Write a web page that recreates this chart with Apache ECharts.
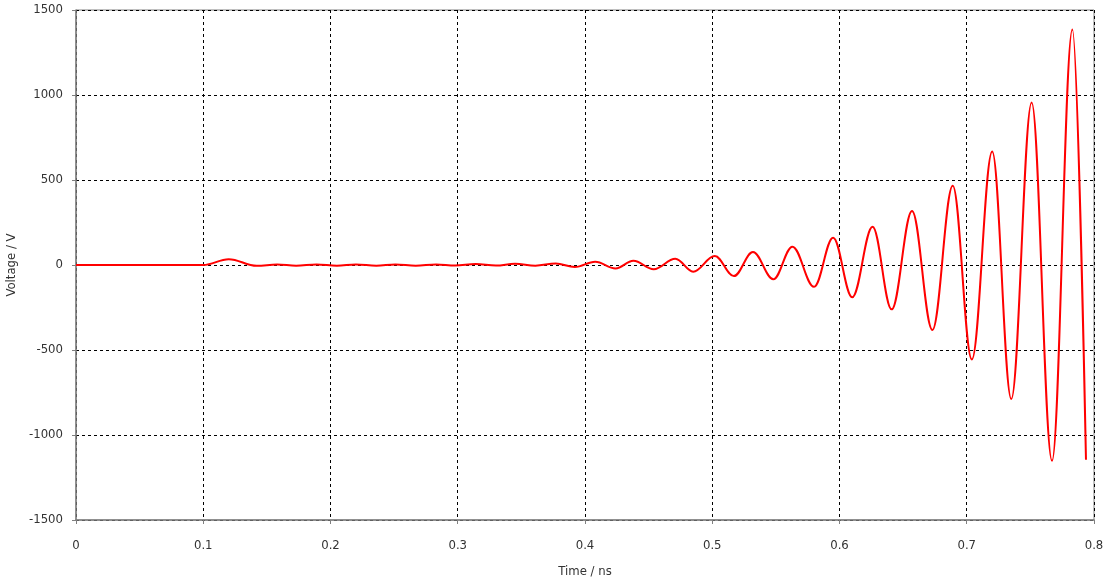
<!DOCTYPE html>
<html>
<head>
<meta charset="utf-8">
<script src="https://cdn.jsdelivr.net/npm/echarts@6/dist/echarts.min.js"></script>
<style>
html,body{margin:0;padding:0;background:#fff;}
#chart{width:1107px;height:583px;}
</style>
</head>
<body>
<div id="chart"></div>
<script>
// Time (ns) and Voltage (V) at the turning points
var time = [
  0, 0.1, 0.12, 0.142, 0.158, 0.173, 0.189, 0.205, 0.220, 0.236,
  0.251, 0.267, 0.283, 0.298, 0.314, 0.330, 0.345, 0.361, 0.377,
  0.392, 0.408, 0.424, 0.438, 0.454, 0.471, 0.485, 0.502, 0.517, 0.532,
  0.548, 0.563, 0.580, 0.595, 0.610, 0.626, 0.641, 0.657, 0.673, 0.689,
  0.704, 0.720, 0.735, 0.751, 0.767, 0.783, 0.7937
];
var voltage = [
  0, 0, 34, -5, 3, -4, 3, -4, 3, -4,
  3, -4, 3, -3, 6, -3, 7, -4, 9,
  -12, 19, -20, 25, -25, 37, -39, 53, -65, 76,
  -84, 108, -128, 161, -190, 225, -261, 318, -382, 466,
  -556, 667, -788, 956, -1152, 1385, -1145
];
var xTicks = [0, 0.1, 0.2, 0.3, 0.4, 0.5, 0.6, 0.7, 0.8];
var yTicks = [-1500, -1000, -500, 0, 500, 1000, 1500];

var seriesData = time.map(function (t, i) { return [t, voltage[i]]; });

var chart = echarts.init(document.getElementById('chart'), null, {renderer: 'canvas'});
var font = "'DejaVu Sans Condensed', 'DejaVu Sans', sans-serif";
chart.setOption({
  animation: false,
  backgroundColor: '#ffffff',
  grid: {left: 76, right: 13, top: 10, bottom: 63, show: true, borderColor: '#808080', borderWidth: 1,
    backgroundColor: 'transparent', outerBoundsMode: 'none', containLabel: false},
  xAxis: {
    type: 'value', min: xTicks[0], max: xTicks[xTicks.length - 1], interval: 0.1,
    name: 'Time / ns', nameLocation: 'middle', nameGap: 45,
    nameTextStyle: {fontFamily: font, fontSize: 13, color: '#333'},
    axisLine: {show: true, onZero: false, lineStyle: {color: '#808080', width: 1.5}},
    axisTick: {show: true, length: 4, lineStyle: {color: '#808080'}},
    axisLabel: {fontFamily: font, fontSize: 13, color: '#333', margin: 19,
      formatter: function (v) { return String(Math.round(v * 10) / 10); }},
    splitLine: {show: true, lineStyle: {color: '#000', type: [3, 3], width: 1}}
  },
  yAxis: {
    type: 'value', min: yTicks[0], max: yTicks[yTicks.length - 1], interval: 500,
    name: 'Voltage / V', nameLocation: 'middle', nameGap: 58, nameRotate: 90,
    nameTextStyle: {fontFamily: font, fontSize: 13, color: '#333'},
    axisLine: {show: true, onZero: false, lineStyle: {color: '#808080', width: 1.5}},
    axisTick: {show: true, length: 4, lineStyle: {color: '#808080'}},
    axisLabel: {fontFamily: font, fontSize: 13, color: '#333', margin: 13,
      formatter: function (v) { return String(v); }},
    splitLine: {show: true, lineStyle: {color: '#000', type: [3, 3], width: 1}}
  },
  series: [{
    type: 'line', data: seriesData, showSymbol: false, smooth: 0.37, smoothMonotone: 'x',
    lineStyle: {color: '#ff0000', width: 2}, z: 3
  }]
});
</script>
</body>
</html>
